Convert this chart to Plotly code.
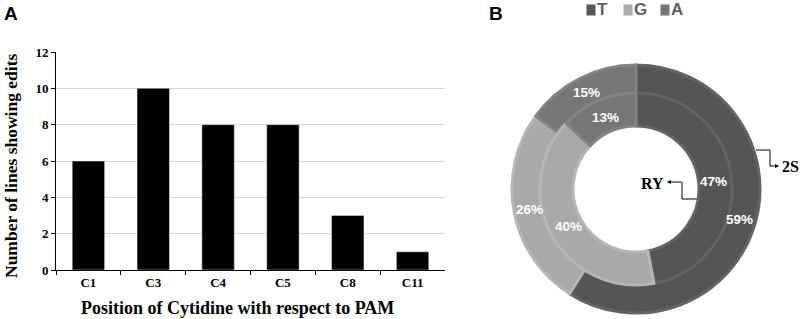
import math
import plotly.graph_objects as go

# ---- Data ----
positions = ["C1", "C3", "C4", "C5", "C8", "C11"]
edit_counts = [6, 10, 8, 8, 3, 1]
y_ticks = [0, 2, 4, 6, 8, 10, 12]

bases = ["T", "G", "A"]
pct_2S = [59, 26, 15]   # outer ring
pct_RY = [47, 40, 13]   # inner ring
base_colors = ["#555555", "#a9a9a9", "#767676"]
base_line_colors = ["#646464", "#b6b6b6", "#838383"]

W, H = 809, 319
def px(x):
    return x / W
def py(y):
    return 1 - y / H

serif = "Liberation Serif"
sans = "Liberation Sans"

fig = go.Figure()

fig.add_trace(go.Bar(
    x=positions, y=edit_counts, marker_color="black", width=0.5,
    xaxis="x", yaxis="y", showlegend=False,
))

# Donut geometry
cx, cy = 636, 189
R_out, R_mid, R_in = 124, 96, 63

rings = [(pct_2S, R_out, R_mid), (pct_RY, R_mid, R_in)]
annotations = []
for vals, r_o, r_i in rings:
    fig.add_trace(go.Pie(
        labels=bases, values=vals, sort=False, direction="clockwise", rotation=0,
        hole=r_i / r_o,
        domain=dict(x=[px(cx - r_o), px(cx + r_o)], y=[py(cy + r_o), py(cy - r_o)]),
        marker=dict(colors=base_colors, line=dict(color=base_line_colors, width=3)),
        textinfo="none", showlegend=False,
        text=[f"{v}%" for v in vals], hoverinfo="label+text",
    ))
    # percentage labels at slice mid-angle, ring mid-radius
    total = sum(vals)
    cum = 0
    r_text = (r_o + r_i) / 2 - 2
    for v in vals:
        mid = (cum + v / 2) / total * 2 * math.pi
        cum += v
        tx = cx + r_text * math.sin(mid)
        ty = cy - r_text * math.cos(mid)
        annotations.append(dict(
            text=f"<b>{v}%</b>", x=px(tx), y=py(ty), xref="paper", yref="paper",
            showarrow=False, xanchor="center", yanchor="middle",
            font=dict(family=sans, size=13.5, color="white")))

# Legend built from the base labels / colours
leg_x = [586, 623, 660]
for b, c, lx in zip(bases, base_colors, leg_x):
    annotations.append(dict(text=" ", x=px(lx), y=py(10), xref="paper", yref="paper",
                            xanchor="left", yanchor="middle", showarrow=False,
                            width=8, height=10, bgcolor=c, borderpad=0,
                            font=dict(size=4)))
    annotations.append(dict(text=f"<b>{b}</b>", x=px(lx + 9), y=py(10), xref="paper",
                            yref="paper", xanchor="left", yanchor="middle",
                            showarrow=False,
                            font=dict(family=sans, size=17, color="#5f5f5f")))

annotations += [
    dict(text="<b>A</b>", x=px(2), y=py(1), xref="paper", yref="paper",
         xanchor="left", yanchor="top", showarrow=False,
         font=dict(family=sans, size=19, color="black")),
    dict(text="<b>B</b>", x=px(487), y=py(1), xref="paper", yref="paper",
         xanchor="left", yanchor="top", showarrow=False,
         font=dict(family=sans, size=19, color="black")),
    dict(text="<b>Number of lines showing edits</b>", x=px(11), y=py(166),
         xref="paper", yref="paper", textangle=-90, showarrow=False,
         xanchor="center", yanchor="middle",
         font=dict(family=serif, size=17.5, color="black")),
    dict(text="<b>Position of Cytidine with respect to PAM</b>", x=px(237), y=py(308),
         xref="paper", yref="paper", showarrow=False, xanchor="center", yanchor="middle",
         font=dict(family=serif, size=18, color="black")),
    # 2S label + arrow
    dict(text="<b>2S</b>", x=px(780), y=py(166), xref="paper", yref="paper",
         xanchor="left", yanchor="middle", showarrow=False,
         font=dict(family=serif, size=16, color="black")),
    dict(text="", x=px(779), y=py(166), xref="paper", yref="paper",
         ax=-10, ay=0, axref="pixel", ayref="pixel",
         showarrow=True, arrowhead=2, arrowsize=0.8, arrowwidth=1, arrowcolor="black"),
    # RY label + arrow
    dict(text="<b>RY</b>", x=px(666), y=py(183), xref="paper", yref="paper",
         xanchor="right", yanchor="middle", showarrow=False,
         font=dict(family=serif, size=16, color="black")),
    dict(text="", x=px(667), y=py(182), xref="paper", yref="paper",
         ax=16, ay=0, axref="pixel", ayref="pixel",
         showarrow=True, arrowhead=2, arrowsize=0.8, arrowwidth=1, arrowcolor="black"),
]

shapes = [
    dict(type="path", xref="paper", yref="paper",
         path=f"M {px(756)} {py(150)} L {px(770)} {py(150)} L {px(770)} {py(166)} L {px(771)} {py(166)}",
         line=dict(color="black", width=1)),
    dict(type="path", xref="paper", yref="paper",
         path=f"M {px(697)} {py(199)} L {px(682)} {py(199)} L {px(682)} {py(182)}",
         line=dict(color="black", width=1)),
]

fig.update_layout(
    width=W, height=H, margin=dict(l=0, r=0, t=0, b=0, autoexpand=False),
    paper_bgcolor="white", plot_bgcolor="white",
    xaxis=dict(domain=[px(56), px(445)], type="category", showline=True, linecolor="black",
               linewidth=1, ticks="outside", tickson="boundaries", ticklen=4,
               tickcolor="black", showgrid=False,
               tickvals=positions, ticktext=[f"<b>{p}</b>" for p in positions],
               tickfont=dict(family=serif, size=13, color="black"),
               anchor="y", automargin=False),
    yaxis=dict(domain=[py(270), py(52)], range=[0, 12], tickvals=y_ticks,
               ticktext=[f"<b>{t}</b>" for t in y_ticks],
               showline=True, linecolor="black", linewidth=1, ticks="outside",
               ticklen=4, tickcolor="black", showgrid=True, gridcolor="#d9d9d9",
               gridwidth=1, zeroline=False,
               tickfont=dict(family=serif, size=13, color="black"),
               anchor="x", automargin=False),
    annotations=annotations, shapes=shapes, showlegend=False,
)

fig.write_html(
    "out.html",
    config={"displayModeBar": False},
    post_script="document.body.style.margin='0';document.body.style.overflow='hidden';",
)
